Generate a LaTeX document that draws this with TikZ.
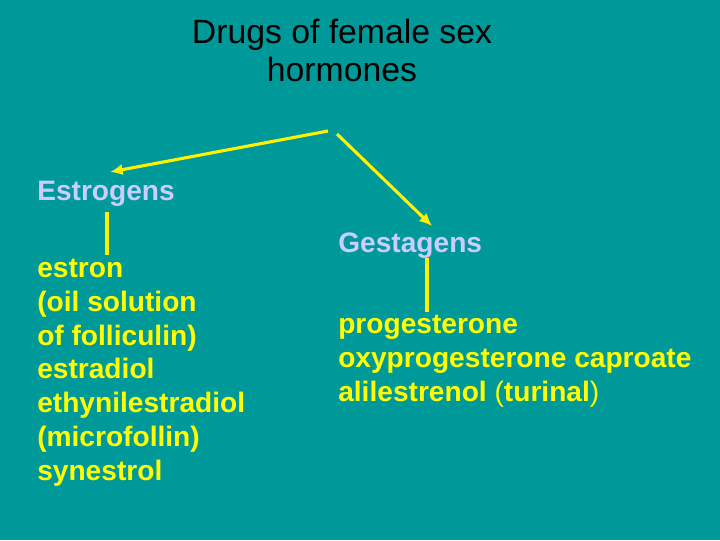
\documentclass[tikz,border=0pt]{standalone}
\usepackage{fontspec}
\setmainfont{Liberation Sans}
\begin{document}
\begin{tikzpicture}[x=0.025cm,y=-0.025cm,
  lbl/.style={anchor=west,inner sep=0pt,font=\fontsize{20}{24}\selectfont\bfseries},
  head/.style={lbl,text=headc},
  drug/.style={lbl,text=drugc,align=left},
  conn/.style={draw=yellow,line width=2.2pt},
  arr/.style={conn,-{Latex[length=9pt,width=8pt]}}]
\usetikzlibrary{arrows.meta}
\definecolor{bg}{HTML}{009999}
\definecolor{headc}{HTML}{CCCCFF}
\definecolor{drugc}{HTML}{FFFF00}
\fill[bg] (0,0) rectangle (720,540);
\node[align=center,font=\fontsize{24}{27}\selectfont] (title) at (342,50) {Drugs of female sex\\hormones};
\coordinate (s1) at (328,131);
\coordinate (s2) at (337,134);
\node[head] (est) at (37,194) {Estrogens};
\node[head] (ges) at (338,246) {Gestagens};
\coordinate (ea) at (110,172);
\coordinate (ga) at (432,226);
\draw[arr] (s1) -- (ea);
\draw[arr] (s2) -- (ga);
\coordinate (e1) at (107,212); \coordinate (e2) at (107,255);
\coordinate (g1) at (427,258); \coordinate (g2) at (427,312);
\draw[conn] (e1) -- (e2);
\draw[conn] (g1) -- (g2);
\node[drug,anchor=north west] (el) at (37,259) {estron\\(oil solution\\of folliculin)\\estradiol\\ethynilestradiol\\(microfollin)\\synestrol};
\node[drug,anchor=north west] (gl) at (338,315) {progesterone\\oxyprogesterone caproate\\alilestrenol {\mdseries(}turinal{\mdseries)}};
\end{tikzpicture}
\end{document}
